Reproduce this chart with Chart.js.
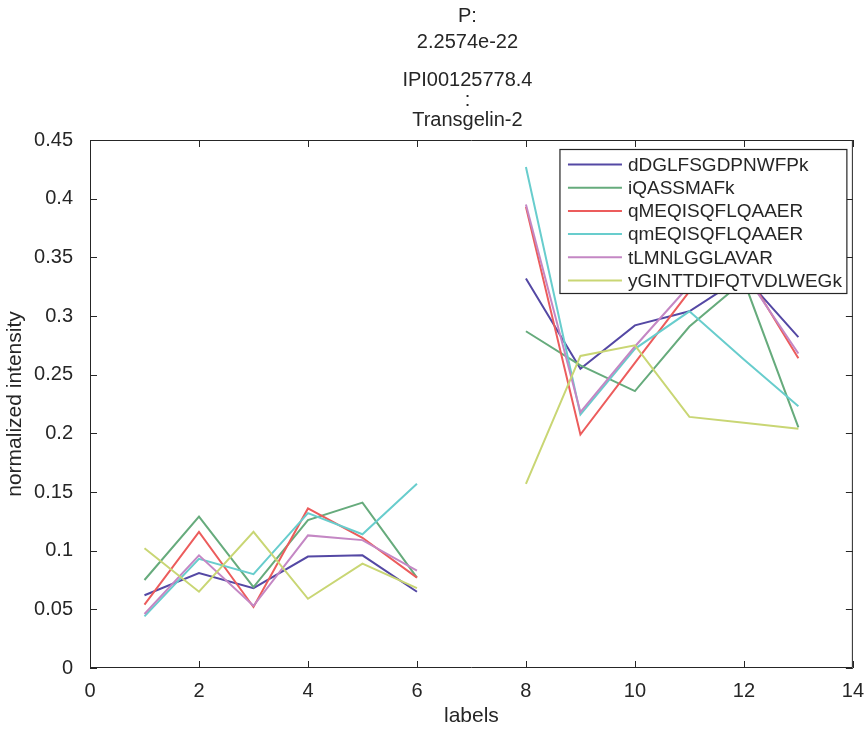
<!DOCTYPE html>
<html>
<head>
<meta charset="utf-8">
<script src="https://cdn.jsdelivr.net/npm/chart.js@4/dist/chart.umd.min.js"></script>
<style>
  html, body { margin: 0; padding: 0; background: #fff; }
  canvas { display: block; }
</style>
</head>
<body>
<canvas id="chart" width="867" height="729"></canvas>
<script>
// x positions 1..13, nothing recorded at 7
const xLabels = [1, 2, 3, 4, 5, 6, 7, 8, 9, 10, 11, 12, 13];

const peptideNames = [
  'dDGLFSGDPNWFPk',
  'iQASSMAFk',
  'qMEQISQFLQAAER',
  'qmEQISQFLQAAER',
  'tLMNLGGLAVAR',
  'yGINTTDIFQTVDLWEGk',
];

const dDGLFSGDPNWFPk = [0.062, 0.081, 0.068, 0.095, 0.096, 0.065, null, 0.332, 0.255, 0.292, 0.304, 0.334, 0.282];
const iQASSMAFk = [0.075, 0.129, 0.069, 0.126, 0.141, 0.077, null, 0.287, 0.258, 0.236, 0.291, 0.330, 0.205];
const qMEQISQFLQAAER = [0.054, 0.116, 0.052, 0.136, 0.111, 0.077, null, 0.393, 0.199, 0.260, 0.321, 0.340, 0.264];
const qmEQISQFLQAAER = [0.044, 0.093, 0.080, 0.132, 0.114, 0.157, null, 0.427, 0.216, 0.272, 0.304, 0.263, 0.223];
const tLMNLGGLAVAR = [0.046, 0.096, 0.053, 0.113, 0.109, 0.083, null, 0.395, 0.218, 0.274, 0.326, 0.337, 0.268];
const yGINTTDIFQTVDLWEGk = [0.102, 0.065, 0.116, 0.059, 0.089, 0.068, null, 0.157, 0.266, 0.275, 0.214, 0.209, 0.204];

const seriesValues = [dDGLFSGDPNWFPk, iQASSMAFk, qMEQISQFLQAAER, qmEQISQFLQAAER, tLMNLGGLAVAR, yGINTTDIFQTVDLWEGk];
const lineColors = ['#5448a4', '#66ab7c', '#ec5c5c', '#68cdcd', '#c487c4', '#c9d674'];

const titleLines = ['P:', '2.2574e-22', 'IPI00125778.4', ':', 'Transgelin-2'];
const titleBaselines = [22, 48, 86, 106, 126];

const FONT = '"Liberation Sans", Arial, Helvetica, sans-serif';
const AXIS_COLOR = '#262626';
const TEXT_COLOR = '#262626';

// frame around the plot with inward ticks on every side (matlab style)
const boxTicks = {
  id: 'boxTicks',
  afterDraw(chart) {
    const { ctx, chartArea: a, scales } = chart;
    const tl = 7;
    ctx.save();
    ctx.strokeStyle = AXIS_COLOR;
    ctx.lineWidth = 1;
    ctx.beginPath();
    ctx.rect(a.left + 0.5, a.top + 0.5, a.right - a.left - 1, a.bottom - a.top - 1);
    scales.x.ticks.forEach((t) => {
      const px = Math.round(scales.x.getPixelForValue(t.value)) + 0.5;
      ctx.moveTo(px, a.bottom);
      ctx.lineTo(px, a.bottom - tl);
      ctx.moveTo(px, a.top);
      ctx.lineTo(px, a.top + tl);
    });
    scales.y.ticks.forEach((t) => {
      const py = Math.round(scales.y.getPixelForValue(t.value)) + 0.5;
      ctx.moveTo(a.left, py);
      ctx.lineTo(a.left + tl, py);
      ctx.moveTo(a.right, py);
      ctx.lineTo(a.right - tl, py);
    });
    ctx.stroke();
    ctx.restore();
  },
};

// legend box sitting inside the top right corner of the axes
const insideLegend = {
  id: 'insideLegend',
  afterDraw(chart) {
    const { ctx, chartArea: a } = chart;
    ctx.save();
    ctx.font = '19px ' + FONT;
    const maxW = Math.max(...peptideNames.map((n) => ctx.measureText(n).width));
    const right = a.right - 6;
    const top = a.top + 9.5;
    const left = right - (68 + maxW + 5);
    const rowH = 23.2;
    const height = 144;

    ctx.fillStyle = '#fff';
    ctx.fillRect(left, top, right - left, height);
    ctx.strokeStyle = AXIS_COLOR;
    ctx.lineWidth = 1.2;
    ctx.strokeRect(left, top, right - left, height);

    ctx.textBaseline = 'middle';
    ctx.textAlign = 'left';
    peptideNames.forEach((name, i) => {
      const cy = top + 15 + i * rowH;
      ctx.strokeStyle = lineColors[i];
      ctx.lineWidth = 2;
      ctx.beginPath();
      ctx.moveTo(left + 8, cy);
      ctx.lineTo(left + 62, cy);
      ctx.stroke();
      ctx.fillStyle = TEXT_COLOR;
      ctx.fillText(name, left + 68, cy + 1);
    });
    ctx.restore();
  },
};

// stacked title text above the axes
const stackedTitle = {
  id: 'stackedTitle',
  afterDraw(chart) {
    const { ctx, chartArea: a } = chart;
    const cx = (a.left + a.right) / 2 - 4;
    ctx.save();
    ctx.font = '20px ' + FONT;
    ctx.fillStyle = TEXT_COLOR;
    ctx.textAlign = 'center';
    ctx.textBaseline = 'alphabetic';
    titleLines.forEach((line, i) => ctx.fillText(line, cx, titleBaselines[i]));
    ctx.restore();
  },
};

const datasets = peptideNames.map((name, i) => ({
  label: name,
  data: xLabels.map((x, j) => ({ x, y: seriesValues[i][j] })),
  borderColor: lineColors[i],
  backgroundColor: lineColors[i],
  borderWidth: 2,
  pointRadius: 0,
  tension: 0,
  spanGaps: false,
  order: peptideNames.length - i,
}));

new Chart(document.getElementById('chart'), {
  type: 'line',
  data: { datasets },
  options: {
    responsive: false,
    animation: false,
    layout: { padding: { top: 140, right: 14, bottom: 0, left: 0 } },
    scales: {
      x: {
        type: 'linear',
        min: 0,
        max: 14,
        grid: { display: false },
        border: { display: false },
        ticks: {
          stepSize: 2,
          padding: 3,
          color: TEXT_COLOR,
          font: { family: FONT, size: 20 },
          maxRotation: 0,
        },
        title: {
          display: true,
          text: 'labels',
          color: TEXT_COLOR,
          font: { family: FONT, size: 21 },
          padding: { top: 0, bottom: 0 },
        },
        afterFit(scale) { scale.height = 61; },
      },
      y: {
        type: 'linear',
        min: 0,
        max: 0.45,
        grid: { display: false },
        border: { display: false },
        ticks: {
          stepSize: 0.05,
          padding: 9,
          color: TEXT_COLOR,
          font: { family: FONT, size: 20 },
          callback: (v) => String(Number(v.toFixed(2))),
        },
        title: {
          display: true,
          text: 'normalized intensity',
          color: TEXT_COLOR,
          font: { family: FONT, size: 21 },
          padding: { top: 3, bottom: 0 },
        },
        afterFit(scale) { scale.width = 90; },
      },
    },
    plugins: {
      legend: { display: false },
      title: { display: false },
      tooltip: { enabled: false },
    },
  },
  plugins: [boxTicks, insideLegend, stackedTitle],
});
</script>
</body>
</html>
